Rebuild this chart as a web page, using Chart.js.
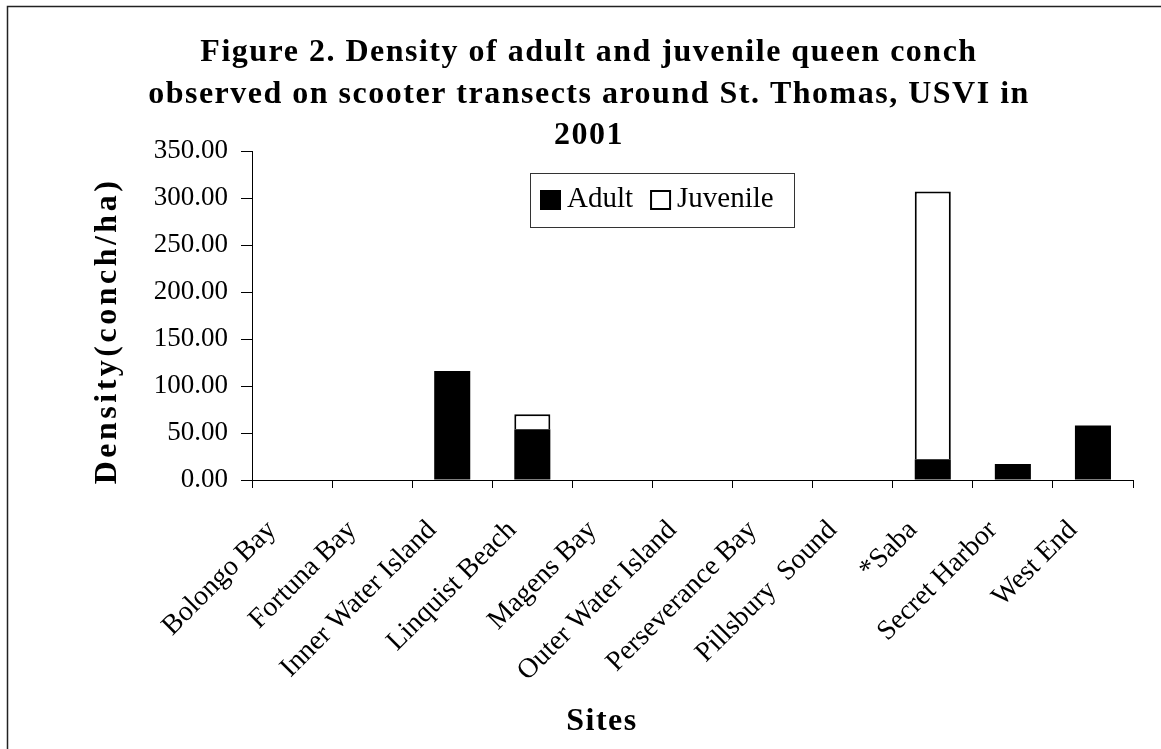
<!DOCTYPE html>
<html>
<head>
<meta charset="utf-8">
<script src="https://cdn.jsdelivr.net/npm/chart.js"></script>
<style>
  body { margin: 0; background: #fff; }
  canvas { display: block; }
</style>
</head>
<body>
<canvas id="myCanvas" width="1161" height="749"></canvas>
<script>
const sites = [
  "Bolongo Bay", "Fortuna Bay", "Inner Water Island", "Linquist Beach",
  "Magens Bay", "Outer Water Island", "Perseverance Bay", "Pillsbury  Sound",
  "*Saba", "Secret Harbor", "West End"
];
const adult    = [0, 0, 116, 54, 0, 0, 0, 0, 22, 17, 58];
const juvenile = [0, 0, 0, 16, 0, 0, 0, 0, 285, 0, 0];
const yMax = 350;
const yStep = 50;

const titleLines = [
  "Figure 2. Density of adult and juvenile queen conch",
  "observed on scooter transects around St. Thomas, USVI in",
  "2001"
];
const yTitle = "Density(conch/ha)";
const xTitle = "Sites";

const serif = "'Liberation Serif', 'Times New Roman', serif";

// titles, boxed legend and the page frame are painted by hand
const decorations = {
  id: "decorations",
  afterDraw(chart) {
    const ctx = chart.ctx;
    ctx.save();

    ctx.strokeStyle = "#222";
    ctx.lineWidth = 1.5;
    ctx.beginPath();
    ctx.moveTo(7.5, 749);
    ctx.lineTo(7.5, 6.5);
    ctx.lineTo(1161, 6.5);
    ctx.stroke();

    ctx.fillStyle = "#000";
    ctx.textAlign = "center";
    ctx.textBaseline = "middle";
    ctx.font = "bold 32px " + serif;
    ctx.letterSpacing = "1.5px";
    titleLines.forEach((line, i) => ctx.fillText(line, 589, 53 + i * 41.5));

    ctx.fillText(xTitle, 602, 722);

    ctx.save();
    ctx.translate(108, 331);
    ctx.rotate(-Math.PI / 2);
    ctx.letterSpacing = "3.5px";
    ctx.fillText(yTitle, 0, 0);
    ctx.restore();

    // legend
    ctx.font = "29px " + serif;
    ctx.letterSpacing = "0px";
    ctx.textAlign = "left";
    let x = 540;
    chart.data.datasets.forEach((ds) => {
      ctx.fillStyle = ds.backgroundColor;
      ctx.fillRect(x, 190, 21, 20);
      if (ds.borderWidth) {
        ctx.strokeStyle = "#000";
        ctx.lineWidth = 2;
        ctx.strokeRect(x + 1, 191, 19, 18);
      }
      x += 27;
      ctx.fillStyle = "#000";
      ctx.fillText(ds.label, x, 199);
      x += ctx.measureText(ds.label).width + 17;
    });
    ctx.strokeStyle = "#333";
    ctx.lineWidth = 1;
    ctx.strokeRect(530.5, 173.5, 264, 54);

    ctx.restore();
  }
};

new Chart(document.getElementById("myCanvas"), {
  type: "bar",
  data: {
    labels: sites,
    datasets: [
      {
        label: "Adult",
        data: adult,
        backgroundColor: "#000",
        borderWidth: 0
      },
      {
        label: "Juvenile",
        data: juvenile,
        backgroundColor: "#fff",
        borderColor: "#000",
        borderWidth: 2
      }
    ]
  },
  options: {
    responsive: false,
    animation: false,
    barPercentage: 0.45,
    categoryPercentage: 1.0,
    layout: { padding: { left: 7, right: 28, top: 151, bottom: 0 } },
    plugins: {
      legend: { display: false },
      title: { display: false },
      tooltip: { enabled: false }
    },
    scales: {
      x: {
        stacked: true,
        grid: { offset: true, drawOnChartArea: false, tickLength: 8, color: "#000" },
        border: { color: "#000", width: 1 },
        ticks: {
          color: "#000",
          font: { family: serif, size: 28 },
          minRotation: 45,
          maxRotation: 45,
          autoSkip: false,
          padding: 26,
          labelOffset: -20
        },
        afterFit(scale) { scale.height = 749 - 480; }
      },
      y: {
        stacked: true,
        min: 0,
        max: yMax,
        grid: { drawOnChartArea: false, tickLength: 11, color: "#000" },
        border: { color: "#000", width: 1 },
        ticks: {
          stepSize: yStep,
          color: "#000",
          font: { family: serif, size: 27 },
          padding: 13,
          callback: (v) => v.toFixed(2)
        },
        afterFit(scale) { scale.width = 252 - 7; }
      }
    }
  },
  plugins: [decorations]
});
</script>
</body>
</html>
